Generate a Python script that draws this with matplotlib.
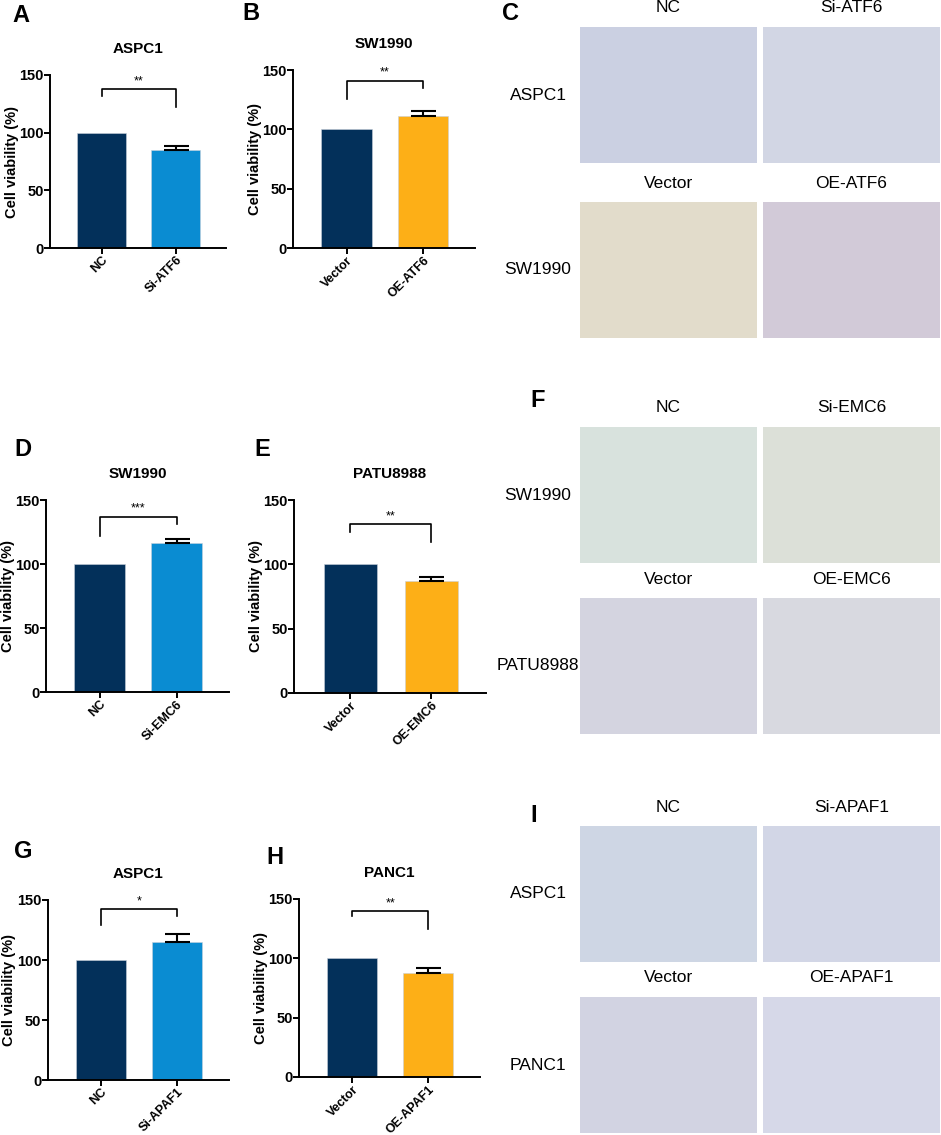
import numpy as np
import matplotlib
matplotlib.use("Agg")
import matplotlib.pyplot as plt

plt.rcParams['font.family'] = ['Liberation Sans', 'DejaVu Sans']

W, H = 941, 1135

# bar chart data
titles = ["ASPC1", "SW1990", "SW1990", "PATU8988", "ASPC1", "PANC1"]
letters = ["A", "B", "D", "E", "G", "H"]
groups = [["NC", "Si-ATF6"], ["Vector", "OE-ATF6"],
          ["NC", "Si-EMC6"], ["Vector", "OE-EMC6"],
          ["NC", "Si-APAF1"], ["Vector", "OE-APAF1"]]
means = [[100, 85.0], [100, 111.2], [100, 116.5],
         [100, 87.0], [100, 114.6], [100, 87.8]]
errs = [[0, 3.4], [0, 4.2], [0, 3.0], [0, 3.3], [0, 7.0], [0, 4.0]]
stars = ["**", "**", "***", "**", "*", "**"]
# bracket: top, left leg end, right leg end
brackets = [[137.5, 132, 122], [141, 125.6, 135], [137, 122, 131],
            [131, 125, 117], [142.5, 129, 137], [140, 136, 125]]

navy = "#03305A"
blue = "#0A8CD2"
orange = "#FDAF17"
bar_colors = [[navy, blue], [navy, orange], [navy, blue],
              [navy, orange], [navy, blue], [navy, orange]]

# pixel boxes of the bar axes (x0, y_top, x1, y_bottom) and letter spots
boxes = [(50, 75, 226, 248), (293, 70, 475, 248),
         (46, 500, 229, 692), (294, 500, 486, 693),
         (47.5, 900, 229, 1080), (299, 899, 480, 1077)]
letter_pos = [(12, 15), (242, 13), (14, 449), (254, 449), (14, 852), (266, 857)]

# microscopy panels
micro_letters = ["C", "F", "I"]
micro_letter_pos = [(502, 13), (530, 400), (530, 816)]
micro_cols = [["NC", "Si-ATF6", "Vector", "OE-ATF6"],
              ["NC", "Si-EMC6", "Vector", "OE-EMC6"],
              ["NC", "Si-APAF1", "Vector", "OE-APAF1"]]
micro_rows = [["ASPC1", "SW1990"], ["SW1990", "PATU8988"], ["ASPC1", "PANC1"]]
micro_rows_y = [[(27, 163), (202, 338)], [(427, 563), (598, 734)],
                [(826, 962), (997, 1133)]]
micro_bg = [["#CBD0E2", "#D2D6E4", "#E2DCCB", "#D2CAD8"],
            ["#D8E2DD", "#DCE0D8", "#D4D4E0", "#D8D9E0"],
            ["#CED6E4", "#D2D6E6", "#D2D3E2", "#D6D8E8"]]

fig = plt.figure(figsize=(W / 100, H / 100), dpi=100)


def px_axes(x0, y0, x1, y1):
    return fig.add_axes([x0 / W, 1 - y1 / H, (x1 - x0) / W, (y1 - y0) / H])


for i in range(6):
    x0, y0, x1, y1 = boxes[i]
    ax = px_axes(x0, y0, x1, y1)
    xs = np.arange(2)
    ax.bar(xs, means[i], width=0.66, color=bar_colors[i], edgecolor="#C8D0DA",
           linewidth=0.4, zorder=2)
    # only the treated group carries an (upper) error bar
    ax.errorbar(xs[1:], means[i][1:], yerr=[[0], errs[i][1:]], fmt="none",
                ecolor="black", elinewidth=1.5, capsize=9, capthick=1.5, zorder=3)
    ax.set_xlim(-0.7, 1.68)
    ax.set_ylim(0, 150)
    ax.set_yticks([0, 50, 100, 150])
    ax.set_xticks(xs)
    ax.set_xticklabels(groups[i], rotation=45, ha="right", rotation_mode="anchor",
                       fontsize=9, fontweight="bold")
    for lab in ax.get_yticklabels():
        lab.set_fontweight("bold")
        lab.set_fontsize(10.5)
    ax.tick_params(width=1.4, length=4, pad=0.5)
    for s in ["top", "right"]:
        ax.spines[s].set_visible(False)
    for s in ["left", "bottom"]:
        ax.spines[s].set_linewidth(1.4)
    ax.set_ylabel("Cell viability (%)", fontsize=10.5, fontweight="bold")
    ax.yaxis.set_label_coords(-31 / (x1 - x0), 0.5)
    top, lb, rb = brackets[i]
    ax.plot([0, 0, 1, 1], [lb, top, top, rb], color="black", lw=1.2, clip_on=False)
    ax.text(0.5, top + 1.5, stars[i], ha="center", va="bottom", fontsize=9)
    cx = (x0 + x1) / 2
    fig.text(cx / W, 1 - (y0 - 26) / H, titles[i], ha="center", va="center",
             fontsize=11, fontweight="bold")
    lx, ly = letter_pos[i]
    fig.text(lx / W, 1 - ly / H, letters[i], ha="left", va="center",
             fontsize=17, fontweight="bold")

img_x = [(580, 757), (763, 940)]
for k in range(3):
    lx, ly = micro_letter_pos[k]
    fig.text(lx / W, 1 - ly / H, micro_letters[k], ha="left", va="center",
             fontsize=17, fontweight="bold")
    for r in range(2):
        ya, yb = micro_rows_y[k][r]
        for c in range(2):
            xa, xb = img_x[c]
            ax = px_axes(xa, ya, xb, yb)
            ax.set_facecolor(micro_bg[k][r * 2 + c])
            ax.set_xticks([])
            ax.set_yticks([])
            for s in ax.spines.values():
                s.set_visible(False)
            fig.text((xa + xb) / 2 / W, 1 - (ya - 19) / H, micro_cols[k][r * 2 + c],
                     ha="center", va="center", fontsize=12.5)
        fig.text(538 / W, 1 - ((ya + yb) / 2) / H, micro_rows[k][r],
                 ha="center", va="center", fontsize=12.5)

fig.savefig("out.png", dpi=100)
